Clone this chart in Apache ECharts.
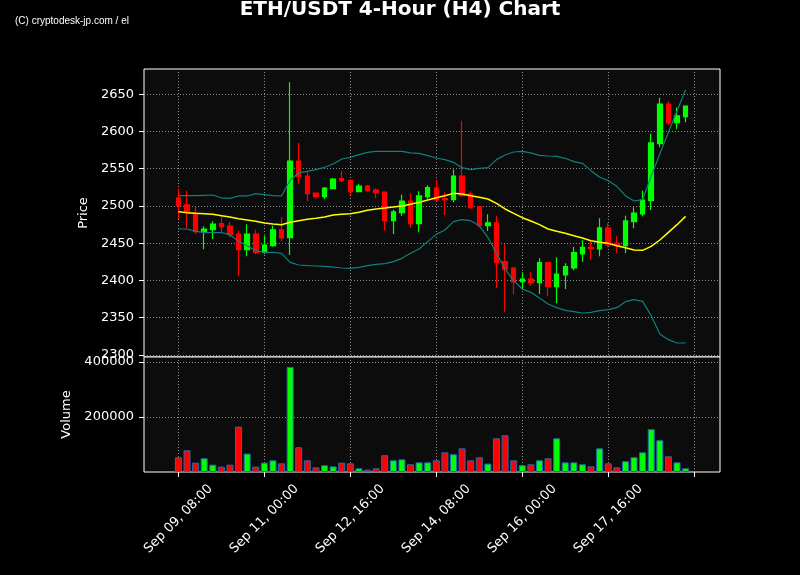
<!DOCTYPE html>
<html><head><meta charset="utf-8">
<script src="https://cdn.jsdelivr.net/npm/echarts@6/dist/echarts.min.js"></script>
<style>html,body{margin:0;padding:0;background:#000;}#c{width:800px;height:575px;}</style>
</head><body><div id="c"></div>
<script>
const dates = [
'Sep 09, 08:00','Sep 09, 12:00','Sep 09, 16:00','Sep 09, 20:00',
'Sep 10, 00:00','Sep 10, 04:00','Sep 10, 08:00','Sep 10, 12:00','Sep 10, 16:00','Sep 10, 20:00',
'Sep 11, 00:00','Sep 11, 04:00','Sep 11, 08:00','Sep 11, 12:00','Sep 11, 16:00','Sep 11, 20:00',
'Sep 12, 00:00','Sep 12, 04:00','Sep 12, 08:00','Sep 12, 12:00','Sep 12, 16:00','Sep 12, 20:00',
'Sep 13, 00:00','Sep 13, 04:00','Sep 13, 08:00','Sep 13, 12:00','Sep 13, 16:00','Sep 13, 20:00',
'Sep 14, 00:00','Sep 14, 04:00','Sep 14, 08:00','Sep 14, 12:00','Sep 14, 16:00','Sep 14, 20:00',
'Sep 15, 00:00','Sep 15, 04:00','Sep 15, 08:00','Sep 15, 12:00','Sep 15, 16:00','Sep 15, 20:00',
'Sep 16, 00:00','Sep 16, 04:00','Sep 16, 08:00','Sep 16, 12:00','Sep 16, 16:00','Sep 16, 20:00',
'Sep 17, 00:00','Sep 17, 04:00','Sep 17, 08:00','Sep 17, 12:00','Sep 17, 16:00','Sep 17, 20:00',
'Sep 18, 00:00','Sep 18, 04:00','Sep 18, 08:00','Sep 18, 12:00','Sep 18, 16:00','Sep 18, 20:00',
'Sep 19, 00:00','Sep 19, 04:00'];

const opens  = [2510.7,2501.3,2490.1,2465.0,2468.1,2476.2,2473.0,2462.3,2441.2,2462.3,
2437.6,2446.6,2467.7,2457.4,2560.4,2540.2,2517.4,2512.5,2523.2,2536.7,
2534.4,2519.2,2526.8,2521.4,2518.7,2480.2,2491.0,2506.6,2476.2,2512.5,
2524.1,2509.8,2508.4,2540.2,2516.1,2499.0,2473.5,2477.1,2425.1,2416.6,
2398.2,2401.8,2396.9,2423.8,2391.5,2407.2,2416.6,2435.4,2444.4,2442.1,
2470.4,2449.7,2446.6,2478.9,2489.2,2507.1,2583.7,2637.0,2611.9,2620.0];
const closes = [2500.4,2490.5,2465.4,2469.0,2475.7,2472.1,2461.4,2441.2,2462.3,2437.6,
2447.5,2467.7,2456.9,2560.4,2539.8,2516.5,2512.5,2524.1,2536.2,2534.0,
2519.2,2526.8,2520.5,2517.8,2480.2,2491.9,2506.6,2476.2,2513.4,2524.6,
2508.0,2508.4,2540.2,2513.8,2497.7,2473.5,2477.1,2423.8,2415.2,2397.8,
2401.8,2396.9,2423.8,2391.5,2408.5,2418.4,2437.2,2444.4,2442.6,2470.4,
2447.8,2446.6,2479.8,2490.5,2508.0,2584.6,2637.0,2611.5,2620.9,2634.3];
const lows   = [2482.4,2469.9,2462.3,2441.7,2455.6,2464.5,2457.8,2405.4,2432.3,2435.0,
2435.4,2445.3,2452.4,2434.1,2529.5,2506.2,2509.3,2509.3,2522.8,2531.7,
2514.7,2518.7,2519.2,2510.2,2466.8,2462.3,2486.9,2470.8,2464.5,2509.8,
2506.6,2487.8,2504.8,2512.9,2495.4,2470.8,2466.3,2389.3,2357.9,2381.2,
2387.5,2392.8,2381.6,2378.5,2369.1,2388.4,2413.5,2424.9,2427.8,2432.3,
2444.4,2436.3,2436.8,2469.9,2486.0,2494.5,2578.8,2608.8,2603.0,2612.4];
const highs  = [2523.7,2520.5,2499.0,2472.6,2479.3,2484.7,2478.4,2466.8,2475.3,2468.1,
2460.0,2473.5,2484.7,2666.1,2584.6,2547.4,2517.8,2525.5,2537.6,2546.5,
2534.9,2529.5,2528.1,2523.7,2519.2,2495.0,2515.2,2517.0,2519.6,2527.7,
2534.9,2518.3,2548.8,2614.6,2519.6,2499.9,2488.7,2486.5,2448.4,2418.4,
2410.8,2410.8,2429.6,2424.2,2430.9,2422.9,2445.3,2453.8,2452.4,2483.3,
2476.6,2459.2,2486.9,2498.1,2520.5,2597.1,2645.5,2640.6,2632.1,2634.3];
const volumes = [53500,79000,34000,50000,26500,19500,26500,165000,67000,19500,
34000,42500,31500,381500,90000,42500,17000,24500,20500,34000,
31500,13500,8500,13500,61000,42500,46000,28000,35000,35000,
42500,71500,64500,86000,42500,53500,30500,122500,133500,42500,
24500,28000,42500,50000,122500,35000,35000,28000,20500,86000,
31500,17000,39000,53500,71500,155500,115500,57000,35000,13500];
const sma20 = [2492.3,2491.0,2490.1,2489.6,2488.7,2486.9,2485.1,2482.9,2481.1,2479.3,
2477.1,2475.7,2474.8,2478.0,2480.2,2482.0,2483.3,2485.1,2487.8,2488.7,
2489.6,2491.4,2494.1,2495.9,2497.2,2498.6,2499.9,2502.2,2504.8,2508.0,
2511.1,2513.8,2516.9,2516.0,2513.8,2511.6,2509.3,2503.5,2495.9,2490.1,
2484.2,2479.8,2474.8,2469.0,2465.9,2463.2,2460.0,2456.9,2453.3,2451.1,
2449.7,2446.6,2443.9,2440.8,2440.3,2445.7,2454.2,2464.5,2474.8,2486.0];
const upperBand = [2513.8,2513.8,2513.8,2514.3,2514.7,2510.7,2510.2,2513.4,2513.4,2516.5,
2515.2,2513.8,2513.4,2534.9,2544.3,2546.5,2548.8,2551.9,2556.4,2563.1,
2565.3,2568.9,2572.0,2573.4,2573.4,2573.4,2573.4,2571.2,2570.7,2567.6,
2564.4,2562.2,2558.6,2551.4,2548.8,2550.5,2551.4,2562.2,2568.5,2572.5,
2573.4,2571.2,2568.0,2567.1,2566.7,2564.0,2559.5,2557.3,2547.4,2538.5,
2534.0,2526.4,2513.8,2506.6,2508.4,2540.2,2569.8,2598.9,2627.6,2656.3];
const lowerBand = [2469.0,2469.0,2465.9,2464.5,2464.1,2464.1,2461.4,2452.4,2446.6,2439.9,
2437.6,2437.6,2436.3,2424.2,2420.6,2419.7,2419.3,2418.8,2417.9,2416.6,
2416.1,2417.5,2419.7,2421.5,2422.4,2425.1,2429.6,2436.3,2442.1,2452.0,
2461.8,2467.7,2478.9,2481.6,2480.2,2473.5,2457.8,2436.3,2415.2,2399.6,
2388.4,2383.9,2376.3,2368.2,2363.3,2359.7,2357.9,2356.1,2357.0,2359.2,
2360.6,2363.3,2371.3,2374.0,2371.8,2352.5,2327.9,2320.3,2315.8,2315.8];
const priceTicks = [2300,2350,2400,2450,2500,2550,2600,2650];
const volumeTicks = [200000,400000];

const PAD_L = 4, PAD_R = 4, TICK_EVERY = 10;
const axisCats = [];
for (let i = 0; i < PAD_L; i++) axisCats.push('padL' + i);
dates.forEach(d => axisCats.push(d));
for (let i = 0; i < PAD_R; i++) axisCats.push('padR' + i);
const padArr = (arr, empty) => [...Array(PAD_L).fill(empty), ...arr, ...Array(PAD_R).fill(empty)];
const tickShow = i => i >= PAD_L && (i - PAD_L) % TICK_EVERY === 0;
const labelShow = i => tickShow(i) && (i - PAD_L) < dates.length;

const UP = '#00ff00', DOWN = '#ff0000';
const candleData = padArr(dates.map((d, i) => [opens[i], closes[i], lows[i], highs[i]]), ['-','-','-','-']);
const volData = padArr(dates.map((d, i) => ({value: volumes[i], itemStyle: {color: closes[i] >= opens[i] ? UP : DOWN}})), '-');

const gridLine = {color: '#8c8c8c', type: [1, 2], width: 1};
const FONT = 'DejaVu Sans';
const plain = v => String(v);

const chart = echarts.init(document.getElementById('c'), null, {renderer: 'canvas'});
chart.setOption({
  backgroundColor: '#000000',
  animation: false,
  textStyle: {fontFamily: FONT},
  title: [
    {text: 'ETH/USDT 4-Hour (H4) Chart', left: 'center', top: 0, padding: 0,
     textStyle: {color: '#fff', fontSize: 20, fontWeight: 'bold', fontFamily: FONT}},
    {text: '(C) cryptodesk-jp.com / el', left: 15, top: 16, padding: 0,
     textStyle: {color: '#fff', fontSize: 10, fontWeight: 'normal', fontFamily: 'Liberation Sans'}}
  ],
  grid: [
    {left: 144, width: 576, top: 69, height: 288, show: true, backgroundColor: '#0c0c0c', borderColor: '#fff', borderWidth: 1},
    {left: 144, width: 576, top: 357, height: 115, show: true, backgroundColor: '#0c0c0c', borderColor: '#fff', borderWidth: 1}
  ],
  xAxis: [
    {type: 'category', gridIndex: 0, data: axisCats, boundaryGap: false,
     axisLine: {show: false}, axisTick: {show: false}, axisLabel: {show: false},
     splitLine: {show: true, interval: (i) => tickShow(i), lineStyle: gridLine}},
    {type: 'category', gridIndex: 1, data: axisCats, boundaryGap: false,
     axisLine: {show: false},
     axisTick: {show: true, interval: (i) => tickShow(i), length: 5, lineStyle: {color: '#fff', width: 1}},
     axisLabel: {show: true, interval: (i) => labelShow(i), rotate: 45, align: 'center', verticalAlign: 'middle',
                 margin: 47, color: '#fff', fontSize: 13, fontFamily: FONT},
     splitLine: {show: true, interval: (i) => tickShow(i), lineStyle: gridLine}}
  ],
  yAxis: [
    {type: 'value', gridIndex: 0, min: 2297, max: 2684, scale: true,
     name: 'Price', nameLocation: 'middle', nameGap: 38,
     nameTextStyle: {color: '#fff', fontSize: 13, fontFamily: FONT},
     axisLine: {show: false},
     axisTick: {show: true, length: 5, customValues: priceTicks, lineStyle: {color: '#fff'}},
     axisLabel: {color: '#fff', fontSize: 13, margin: 10, customValues: priceTicks, formatter: plain, fontFamily: FONT},
     splitLine: {show: true, lineStyle: gridLine}},
    {type: 'value', gridIndex: 1, min: 0, max: 418000,
     name: 'Volume', nameLocation: 'middle', nameGap: 63,
     nameTextStyle: {color: '#fff', fontSize: 13, fontFamily: FONT},
     axisLine: {show: false},
     axisTick: {show: true, length: 5, customValues: volumeTicks, lineStyle: {color: '#fff'}},
     axisLabel: {color: '#fff', fontSize: 13, margin: 10, customValues: volumeTicks, formatter: plain, fontFamily: FONT},
     splitLine: {show: true, lineStyle: gridLine}}
  ],
  series: [
    {type: 'candlestick', xAxisIndex: 0, yAxisIndex: 0, data: candleData, barWidth: 5,
     itemStyle: {color: UP, color0: DOWN, borderColor: UP, borderColor0: DOWN, borderWidth: 1.2}},
    {type: 'line', xAxisIndex: 0, yAxisIndex: 0, data: padArr(sma20, '-'), symbol: 'none',
     lineStyle: {color: '#ffff00', width: 1.5}},
    {type: 'line', xAxisIndex: 0, yAxisIndex: 0, data: padArr(upperBand, '-'), symbol: 'none',
     lineStyle: {color: '#0f7f7f', width: 1.2}},
    {type: 'line', xAxisIndex: 0, yAxisIndex: 0, data: padArr(lowerBand, '-'), symbol: 'none',
     lineStyle: {color: '#0f7f7f', width: 1.2}},
    {type: 'bar', xAxisIndex: 1, yAxisIndex: 1, data: volData, barWidth: 7,
     itemStyle: {borderColor: '#1f6fb0', borderWidth: 1}}
  ]
});
</script></body></html>
